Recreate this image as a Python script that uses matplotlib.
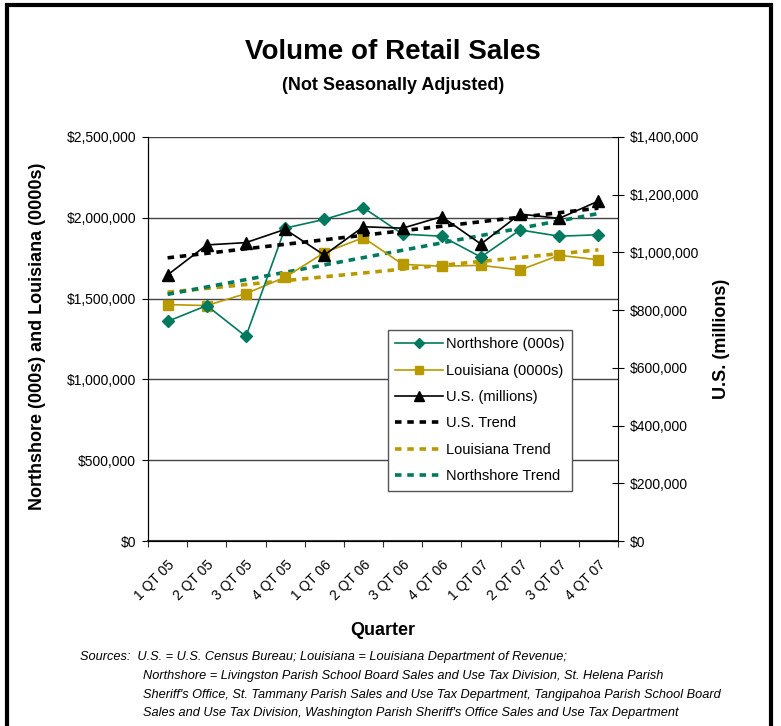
import matplotlib
matplotlib.use("Agg")
import matplotlib.pyplot as plt
import numpy as np
from matplotlib.ticker import FuncFormatter, FixedLocator
from matplotlib.lines import Line2D
from matplotlib.patches import Rectangle
import matplotlib.transforms as mtransforms

plt.rcParams['font.family'] = ['Liberation Sans', 'DejaVu Sans']

quarters = ["1 QT 05", "2 QT 05", "3 QT 05", "4 QT 05", "1 QT 06", "2 QT 06",
            "3 QT 06", "4 QT 06", "1 QT 07", "2 QT 07", "3 QT 07", "4 QT 07"]
northshore = [1359000, 1457000, 1266000, 1936000, 1990000, 2062000,
              1899000, 1886000, 1757000, 1925000, 1886000, 1895000]
louisiana = [1463000, 1457000, 1531000, 1632000, 1784000, 1877000,
             1712000, 1700000, 1706000, 1677000, 1768000, 1740000]
us = [922000, 1026000, 1034000, 1080000, 991000, 1089000,
      1084000, 1124000, 1029000, 1133000, 1118000, 1178000]

GREEN = '#007A5E'
GOLD = '#B89A00'

fig = plt.figure(figsize=(7.81, 7.26), dpi=100)
ax = fig.add_axes([148/781, 1-541/726, 470/781, 404/726])
ax2 = ax.twinx()

x = np.arange(len(quarters))

def trend(vals):
    c = np.polyfit(x, vals, 1)
    return np.polyval(c, x)

dash = (1.8, 1.6)
tl_us, = ax2.plot(x, trend(us), color='black', lw=2.6, dashes=dash, zorder=2)
tl_la, = ax.plot(x, trend(louisiana), color=GOLD, lw=2.6, dashes=dash, zorder=2)
tl_ns, = ax.plot(x, trend(northshore), color=GREEN, lw=2.6, dashes=dash, zorder=2)

l_ns, = ax.plot(x, northshore, color=GREEN, lw=1.2, marker='D', ms=6, zorder=4)
l_la, = ax.plot(x, louisiana, color=GOLD, lw=1.2, marker='s', ms=7, zorder=3)
l_us, = ax2.plot(x, us, color='black', lw=1.2, marker='^', ms=8, zorder=4)

ax.set_xlim(-0.5, len(quarters) - 0.5)
ax.set_ylim(0, 2500000)
ax2.set_ylim(0, 1400000)
ax.set_yticks(np.arange(0, 2500001, 500000))
ax2.set_yticks(np.arange(0, 1400001, 200000))
money = FuncFormatter(lambda v, p: "${:,.0f}".format(v))
ax.yaxis.set_major_formatter(money)
ax2.yaxis.set_major_formatter(money)
ax.grid(axis='y', color='#444444', lw=1.0)
ax.set_axisbelow(True)

ax.xaxis.set_major_locator(FixedLocator(np.arange(-0.5, len(quarters), 1.0)))
ax.xaxis.set_minor_locator(FixedLocator(x))
ax.set_xticklabels([])
ax.set_xticklabels(quarters, minor=True, rotation=45, ha='right',
                   rotation_mode='anchor', fontsize=10)
shift = mtransforms.ScaledTranslation(-4/100, 0, fig.dpi_scale_trans)
for lab in ax.get_xticklabels(minor=True):
    lab.set_transform(lab.get_transform() + shift)
ax.tick_params(axis='x', which='major', direction='out', length=4, color='#333333')
ax.tick_params(axis='x', which='minor', length=0, pad=12)
ax.tick_params(axis='y', direction='out', length=4, labelsize=10, pad=4.5)
ax2.tick_params(axis='y', direction='inout', length=9, labelsize=10, pad=4)

for a in (ax, ax2):
    a.spines['top'].set_visible(False)
    a.set_facecolor('none')
ax.spines['right'].set_visible(False)
ax.spines['bottom'].set_color('#333333')
ax.spines['bottom'].set_linewidth(1.5)

ax.set_xlabel("Quarter", fontsize=13, fontweight='bold', labelpad=14)

fig.text(38/781, 1-336/726, "Northshore (000s) and Louisiana (0000s)", rotation=90,
         ha='center', va='center', fontsize=13, fontweight='bold')
fig.text(722/781, 1-339/726, "U.S. (millions)", rotation=90,
         ha='center', va='center', fontsize=13, fontweight='bold')

fig.text(393/781, 1-52/726, "Volume of Retail Sales", ha='center', va='center',
         fontsize=20, fontweight='bold')
fig.text(393/781, 1-85/726, "(Not Seasonally Adjusted)", ha='center', va='center',
         fontsize=13, fontweight='bold')

labels = ["Northshore (000s)", "Louisiana (0000s)", "U.S. (millions)",
          "U.S. Trend", "Louisiana Trend", "Northshore Trend"]
leg_handles = [
    Line2D([], [], color=GREEN, lw=1.2, marker='D', ms=5),
    Line2D([], [], color=GOLD, lw=1.2, marker='s', ms=6),
    Line2D([], [], color='black', lw=1.2, marker='^', ms=7),
    Line2D([], [], color='black', lw=2.6, dashes=dash),
    Line2D([], [], color=GOLD, lw=2.6, dashes=dash),
    Line2D([], [], color=GREEN, lw=2.6, dashes=dash),
]
leg = ax2.legend(leg_handles, labels, loc='upper left',
                 bbox_to_anchor=((388-148)/470, (541-330)/404),
                 fontsize=10.5, frameon=True, fancybox=False, framealpha=1,
                 edgecolor='#555555', handlelength=3.3, handletextpad=0.2,
                 labelspacing=0.85, borderpad=0.5, borderaxespad=0)
leg.get_frame().set_linewidth(1.0)
leg.set_zorder(10)

src_x1, src_x2 = 80/781, 143/781
fig.text(src_x1, 1-657/726, "Sources:  U.S. = U.S. Census Bureau; Louisiana = Louisiana Department of Revenue;",
         ha='left', va='center', fontsize=9.2, style='italic')
lines = ["Northshore = Livingston Parish School Board Sales and Use Tax Division, St. Helena Parish",
         "Sheriff's Office, St. Tammany Parish Sales and Use Tax Department, Tangipahoa Parish School Board",
         "Sales and Use Tax Division, Washington Parish Sheriff's Office Sales and Use Tax Department"]
for i, t in enumerate(lines):
    fig.text(src_x2, 1-(676+18.7*i)/726, t, ha='left', va='center', fontsize=9.2,
             style='italic')

fig.patches.append(Rectangle((7/781, -0.02), 764/781, 1.02-5/726, transform=fig.transFigure,
                             fill=False, lw=3, edgecolor='black'))

fig.savefig("out.png", dpi=100)
